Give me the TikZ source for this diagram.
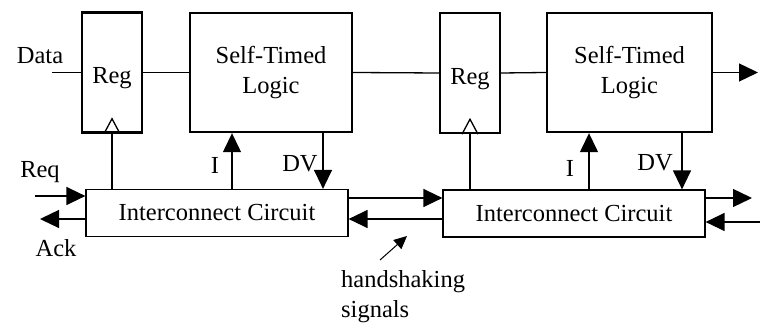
\documentclass[tikz,border=0pt]{standalone}
\usepackage{fontspec}
\setmainfont{Liberation Serif}
\usetikzlibrary{arrows.meta,positioning}
\tikzset{
  regbox/.style={
    shape = rectangle,
    draw,
    line width = 2.4pt,
    minimum width = 60pt,
    minimum height = 120pt,
    inner sep = 0pt
  },
}
\tikzset{
  logicbox/.style={
    shape = rectangle,
    draw,
    line width = 2.4pt,
    minimum height = 119pt,
    align = center,
    inner sep = 0pt
  },
}
\tikzset{
  icbox/.style={
    shape = rectangle,
    draw,
    line width = 1.2pt,
    minimum width = 262pt,
    minimum height = 47pt,
    inner sep = 0pt
  },
  sig/.style={
    line width = 1.3pt,
    -{Triangle[length=19pt,width=18pt]}
  },
  wire/.style={
    line width = 1.3pt
  },
  lbl/.style={
    inner sep = 1pt
  },
  every picture/.style = {
    font=\fontsize{24.5}{30}\selectfont
  }
}

\begin{document}
\begin{tikzpicture}[x=10pt,y=10pt]
    \useasboundingbox (0,0) rectangle (76,32.6);

    % first stage
    \node[regbox] (reg1) at (11.2,25.35) {};
    \node[logicbox, minimum width=162pt] (logic1) at (27.1,25.35) {Self-Timed\\Logic};
    \node[icbox] (ic1) at (21.7,11.3) {Interconnect Circuit};

    % second stage
    \node[regbox] (reg2) at (47.0,25.3) {};
    \node[logicbox, minimum width=165pt] (logic2) at (62.95,25.35) {Self-Timed\\Logic};
    \node[icbox] (ic2) at (57.4,11.25) {Interconnect Circuit};

    \node[lbl] (reg1txt) at ([yshift=-6pt]reg1.center) {Reg};
    \node[lbl] (reg2txt) at ([yshift=-6pt]reg2.center) {Reg};

    % data path
    \coordinate (din) at (5.2,25.35);
    \coordinate (dout) at (75.8,25.35);
    \draw[wire] (din) -- (reg1.west);
    \draw[wire] (reg1.east) -- (logic1.west);
    \draw[wire] (logic1.east) -- (reg2.west);
    \draw[wire] (reg2.east) -- (logic2.west);
    \draw[sig] (logic2.east) -- (dout);
    \node[lbl] (data) at (4.0,27.0) {Data};

    % clocks
    \foreach \r/\c in {reg1/ic1, reg2/ic2}{
        \draw[wire] ([xshift=-8pt]\r.south) -- ([yshift=15pt]\r.south) -- ([xshift=8pt]\r.south);
        \draw[wire] (\c.north -| \r.south) -- (\r.south);
    }

    % I and DV
    \draw[sig] (ic1.north -| 23.2,0) -- (logic1.south -| 23.2,0);
    \draw[sig] (logic1.south -| 32.3,0) -- (ic1.north -| 32.3,0);
    \draw[sig] (ic2.north -| 58.9,0) -- (logic2.south -| 58.9,0);
    \draw[sig] (logic2.south -| 68.2,0) -- (ic2.north -| 68.2,0);
    \node[lbl] (i1) at (21.5,16.1) {I};
    \node[lbl] (dv1) at (30.0,16.2) {DV};
    \node[lbl] (i2) at (57.0,15.8) {I};
    \node[lbl] (dv2) at (65.5,16.3) {DV};

    % handshaking
    \coordinate (req) at (3.5,13.0);
    \coordinate (ack) at (4.0,10.7);
    \draw[sig] (req) -- (req -| ic1.west);
    \draw[sig] (ack -| ic1.west) -- (ack);
    \node[lbl] (reqlbl) at (4.0,15.4) {Req};
    \node[lbl] (acklbl) at (5.6,7.8) {Ack};

    \draw[sig] (ic1.east |- 0,12.8) -- (ic2.west |- 0,12.8);
    \draw[sig] (ic2.west |- 0,10.7) -- (ic1.east |- 0,10.7);

    \coordinate (rout) at (75.2,12.8);
    \coordinate (rin) at (76.0,10.4);
    \draw[sig] (ic2.east |- rout) -- (rout);
    \draw[sig] (rin) -- (rin -| ic2.east);

    \node[lbl, anchor=north west, align=left, inner sep=0pt] (hs) at (34.1,5.6) {handshaking\\signals};
    \coordinate (hstip) at (40.7,9.0);
    \draw[line width=1pt, -{Triangle[length=13pt,width=12pt]}] (38.0,6.6) -- (hstip);
\end{tikzpicture}
\end{document}
